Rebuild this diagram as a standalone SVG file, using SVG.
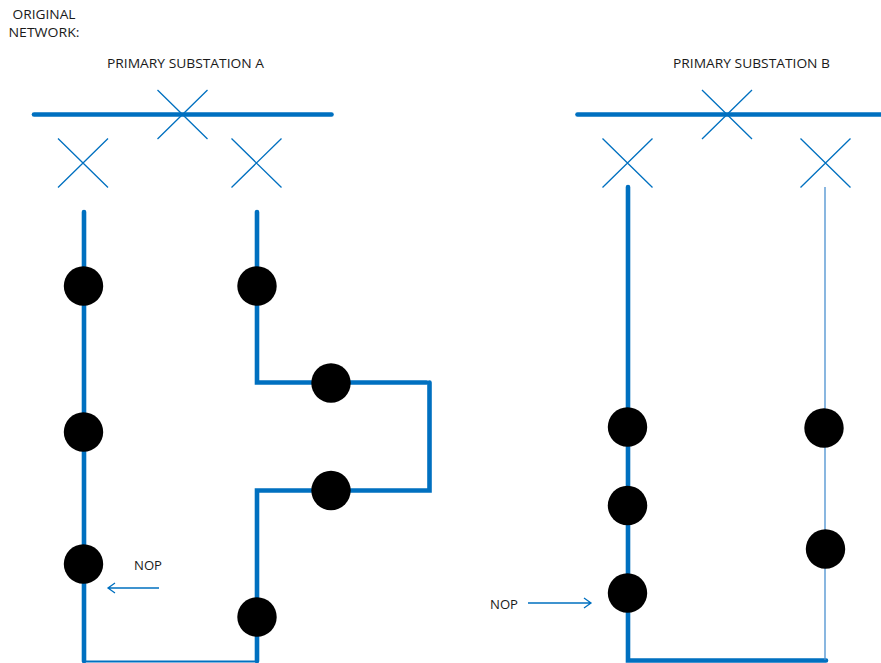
<svg xmlns="http://www.w3.org/2000/svg" width="881" height="663" viewBox="0 0 881 663">
<style>
.bus{fill:none;stroke:#0070c0;stroke-width:4.600;stroke-linecap:round;stroke-linejoin:miter}
.thin{fill:none;stroke:#0070c0;stroke-width:2}
.hair{fill:none;stroke:#4a90d0;stroke-width:1.300}
.x{fill:none;stroke:#0070c0;stroke-width:1.300}
.node{fill:#000}
.arr{fill:none;stroke:#0070c0;stroke-width:1.300}
text{font-family:"Open Sans","Noto Sans","Liberation Sans",sans-serif;font-size:12px;fill:#1a1a1a}
</style>
<defs>
<g id="cross"><path class="x" d="M-25-24.500L25 24.500M25-24.500L-25 24.500"/></g>
</defs>
<rect width="881" height="663" fill="#fff"/>
<g id="connectors">
<path class="bus" d="M34 114.500H331.500"/>
<path class="bus" d="M577.500 114.500H883"/>
<path class="bus" d="M84 212V661"/>
<path class="bus" d="M257 212V382.500H426.500"/>
<path class="bus" d="M429.500 382.500V490.500H257V661"/>
<path class="thin" d="M84 661.500H257"/>
<path class="bus" d="M628 187V660.500H826"/>
<path class="hair" d="M825 187V660"/>
<path class="arr" d="M159 588H108M115 583L108 588L115 593"/>
<path class="arr" d="M528 603H591M584 598L591 603L584 608"/>
</g>
<g id="breaker-a-bus"><use href="#cross" x="182.500" y="114.500"/></g>
<g id="breaker-a-left"><use href="#cross" x="83" y="163"/></g>
<g id="breaker-a-right"><use href="#cross" x="256.500" y="163"/></g>
<g id="breaker-b-bus"><use href="#cross" x="727" y="114.500"/></g>
<g id="breaker-b-left"><use href="#cross" x="627.500" y="163"/></g>
<g id="breaker-b-right"><use href="#cross" x="825.500" y="163"/></g>
<g id="node-a1"><circle class="node" cx="83.500" cy="286" r="19.700"/></g>
<g id="node-a2"><circle class="node" cx="83.500" cy="432" r="19.700"/></g>
<g id="node-a3"><circle class="node" cx="83.500" cy="564" r="19.700"/></g>
<g id="node-a4"><circle class="node" cx="257" cy="286" r="19.700"/></g>
<g id="node-a5"><circle class="node" cx="331" cy="383" r="19.700"/></g>
<g id="node-a6"><circle class="node" cx="331" cy="490.500" r="19.700"/></g>
<g id="node-a7"><circle class="node" cx="257" cy="617" r="19.700"/></g>
<g id="node-b1"><circle class="node" cx="627.500" cy="427" r="19.700"/></g>
<g id="node-b2"><circle class="node" cx="627.500" cy="505.500" r="19.700"/></g>
<g id="node-b3"><circle class="node" cx="627.500" cy="593" r="19.700"/></g>
<g id="node-b4"><circle class="node" cx="824" cy="428" r="19.700"/></g>
<g id="node-b5"><circle class="node" cx="825.500" cy="549" r="19.700"/></g>
<g id="labels">
<text x="12.500" y="19" textLength="63" lengthAdjust="spacingAndGlyphs">ORIGINAL</text>
<text x="8.500" y="37" textLength="71" lengthAdjust="spacingAndGlyphs">NETWORK:</text>
<text x="107" y="68" textLength="157" lengthAdjust="spacingAndGlyphs">PRIMARY SUBSTATION A</text>
<text x="673" y="68" textLength="157" lengthAdjust="spacingAndGlyphs">PRIMARY SUBSTATION B</text>
<text x="134" y="570" textLength="28" lengthAdjust="spacingAndGlyphs">NOP</text>
<text x="490" y="609" textLength="28" lengthAdjust="spacingAndGlyphs">NOP</text>
</g>
</svg>
